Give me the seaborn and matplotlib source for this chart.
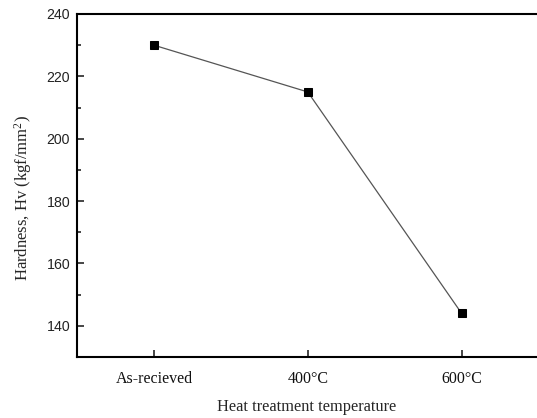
import matplotlib
matplotlib.use("Agg")
import matplotlib.pyplot as plt
import seaborn as sns
import pandas as pd
from matplotlib.ticker import MultipleLocator

categories = ["As-recieved", "400°C", "600°C"]
hardness = [230, 215, 144]

sns.set_style("ticks")
plt.rcParams["mathtext.fontset"] = "custom"
plt.rcParams["mathtext.rm"] = "Liberation Serif"
plt.rcParams["mathtext.it"] = "Liberation Serif:italic"
df = pd.DataFrame({"x": range(len(categories)), "y": hardness})

fig = plt.figure(figsize=(5.37, 4.18), dpi=100)
ax = fig.add_axes([77/537, 61/418, 1 - 77/537, (357-14)/418])
sns.lineplot(data=df, x="x", y="y", ax=ax, color="#555555", linewidth=0.9,
             marker="s", markersize=6, markerfacecolor="black",
             markeredgecolor="black")
ax.set_xlim(-0.5, 2.49)
ax.set_ylim(130, 240)
ax.set_xticks(range(len(categories)))
ax.set_xticklabels(categories)
ax.yaxis.set_major_locator(MultipleLocator(20))
ax.yaxis.set_minor_locator(MultipleLocator(10))
ax.tick_params(axis="both", which="both", direction="in")
ax.tick_params(axis="y", which="major", length=5, width=1.2, pad=5,
               labelfontfamily="Liberation Sans", labelsize=10.2, labelcolor="#222222")
ax.tick_params(axis="y", which="minor", length=3, width=1.2)
ax.tick_params(axis="x", which="major", length=5, width=1.2, pad=10,
               labelfontfamily="Liberation Serif", labelsize=11.5, labelcolor="#111111")
ax.tick_params(axis="x", which="minor", bottom=False)
for s in ["left", "bottom", "top"]:
    ax.spines[s].set_linewidth(1.5)
    ax.spines[s].set_color("black")
ax.spines["right"].set_visible(False)
ax.set_xlabel("Heat treatment temperature", fontfamily="Liberation Serif", fontsize=11.8, labelpad=9)
ax.set_ylabel("Hardness, Hv (kgf/mm$^2$)", fontfamily="Liberation Serif", fontsize=12)
ax.yaxis.set_label_coords(-0.094, 0.463)
fig.savefig("out.png", dpi=100)
